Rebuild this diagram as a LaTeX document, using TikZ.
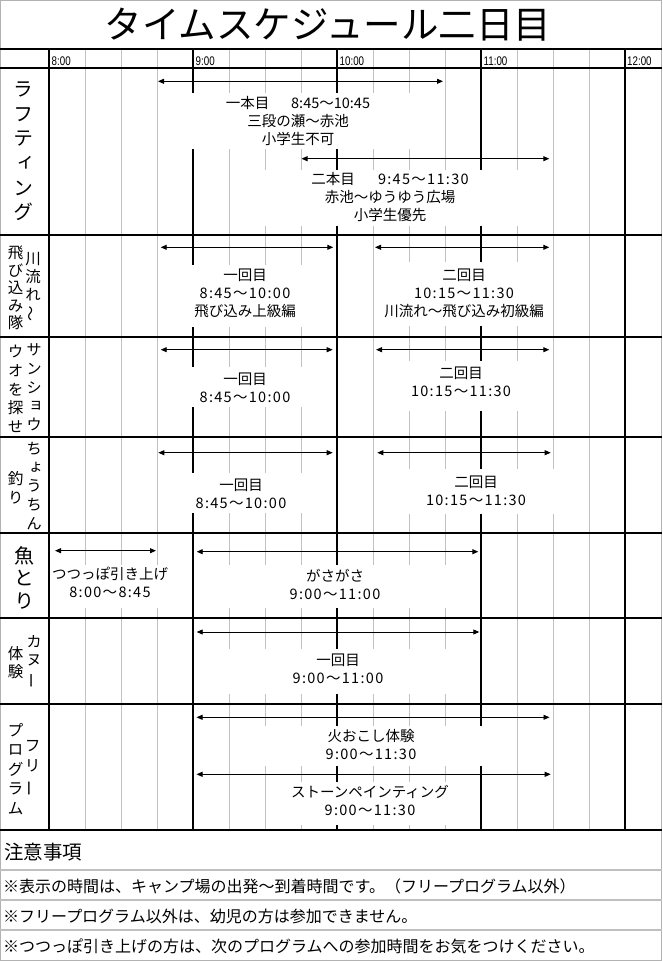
\documentclass[tikz,border=0pt]{standalone}
\usepackage{fontspec}
\setmainfont{Noto Sans CJK JP}
\newfontfamily\jp{Noto Sans CJK JP}
\newfontfamily\jpt[LetterSpace=9]{Noto Sans CJK JP}
\newfontfamily\jpv[RawFeature=+vert]{Noto Sans CJK JP}
\newfontfamily\tm[FakeStretch=0.78]{Liberation Sans}
\usetikzlibrary{arrows.meta}
\newcommand{\vrot}[1]{\rotatebox[origin=c]{90}{\jp #1}}
\tikzset{
  qline/.style={draw=black!24, line width=1pt},
  hourline/.style={draw=black, line width=2pt},
  rowline/.style={draw=black, line width=2.6pt},
  noteline/.style={draw=black!25, line width=1.2pt},
  whitebox/.style={fill=white, draw=none},
  spanarrow/.style={draw=black, line width=0.9pt, {Triangle[length=6pt,width=5pt]}-{Triangle[length=6pt,width=5pt]}},
  celltext/.style={font=\jp\fontsize{14.5}{18}\selectfont, align=center, inner sep=0pt},
  vlab/.style={font=\jpv\fontsize{15.5}{18.7}\selectfont, align=center, inner sep=0pt},
  biglab/.style={font=\jpv\fontsize{20}{24.6}\selectfont, align=center, inner sep=0pt},
  timelab/.style={font=\tm\fontsize{12.5}{12.5}\selectfont, anchor=base west, inner sep=0pt},
  notetext/.style={font=\jp\fontsize{16}{18}\selectfont, anchor=west, inner sep=0pt},
}
\begin{document}
\begin{tikzpicture}[x=1pt,y=-1pt]
\useasboundingbox (0,0) rectangle (662,961);
\fill[white] (0,0) rectangle (662,961);
\draw[draw=black!30, line width=1pt] (0.5,0.5) rectangle (661.5,960.5);

% title
\node[font=\jp\fontsize{37.5}{40}\selectfont, inner sep=0pt] (title) at (328,25) {タイムスケジュール二日目};

% vertical grid
\foreach \k in {1,2,3,5,6,7,9,10,11,13,14,15} {
  \draw[qline] ({49+36*\k},49) -- ({49+36*\k},830);
}
\foreach \x in {49,193,337,481,625} {
  \draw[hourline] (\x,49) -- (\x,830);
}

% white cell areas covering the grid
\fill[whitebox] (158,93) rectangle (444,149);
\fill[whitebox] (230,170) rectangle (552,226);
\fill[whitebox] (158,265) rectangle (336,327);
\fill[whitebox] (374,262) rectangle (552,326);
\fill[whitebox] (158,367) rectangle (336,407);
\fill[whitebox] (374,361) rectangle (552,411);
\fill[whitebox] (158,473) rectangle (336,513);
\fill[whitebox] (374,469) rectangle (588,514);
\fill[whitebox] (51,565) rectangle (192,608);
\fill[whitebox] (194.5,565) rectangle (479.5,608);
\fill[whitebox] (194.5,649) rectangle (479.5,694);
\fill[whitebox] (230,726) rectangle (516,766);
\fill[whitebox] (266,782) rectangle (479.5,825);

% horizontal lines
\foreach \y in {49,68,235,337,437,533,618,704,830} {
  \draw[rowline] (0,\y) -- (662,\y);
}
\foreach \y in {870,900,930} {
  \draw[noteline] (0,\y) -- (662,\y);
}

% time header
\node[timelab] (t8) at (51.5,65.7) {8:00};
\node[timelab] (t9) at (195.5,65.7) {9:00};
\node[timelab] (t10) at (339.5,65.7) {10:00};
\node[timelab] (t11) at (483.5,65.7) {11:00};
\node[timelab] (t12) at (627,65.7) {12:00};

% row labels
\node[biglab] (lraft) at (23,151.5) {ラ\\フ\\テ\\ィ\\ン\\グ};
\node[vlab, font=\jpv\fontsize{15.5}{17.7}\selectfont] (ljumpR) at (33,287) {川\\流\\れ\\\vrot{〜}};
\node[vlab, font=\jpv\fontsize{15.5}{17.5}\selectfont] (ljumpL) at (15.6,288) {飛\\び\\込\\み\\隊};
\node[vlab] (lsalR) at (34,387.5) {サ\\ン\\シ\\ョ\\ウ};
\node[vlab] (lsalL) at (15.6,389) {ウ\\オ\\を\\探\\せ};
\node[vlab] (lfishR) at (34,486) {ち\\ょ\\う\\ち\\ん};
\node[vlab] (lfishL) at (15.6,487.5) {釣\\り};
\node[biglab, font=\jpv\fontsize{20}{22.5}\selectfont] (lsakana) at (24,577.5) {魚\\と\\り};
\node[vlab, font=\jpv\fontsize{15.5}{18.3}\selectfont] (lcanoeR) at (34,661.7) {カ\\ヌ\\\vrot{ー}};
\node[vlab, font=\jpv\fontsize{15.5}{18.3}\selectfont] (lcanoeL) at (15.6,662.5) {体\\験};
\node[vlab, font=\jpv\fontsize{16}{20}\selectfont] (lfreeR) at (32.5,768.3) {フ\\リ\\\vrot{ー}};
\node[vlab, font=\jpv\fontsize{16}{19.6}\selectfont] (lfreeL) at (15.6,769) {プ\\ロ\\グ\\ラ\\ム};

% arrows
\coordinate (a1l) at (158,81.3);   \coordinate (a1r) at (443,81.3);
\coordinate (a2l) at (301.5,158.7); \coordinate (a2r) at (549.3,158.7);
\coordinate (b1l) at (160.7,247.3); \coordinate (b1r) at (333.3,247.3);
\coordinate (b2l) at (375,247.3);   \coordinate (b2r) at (549.3,247.3);
\coordinate (c1l) at (160.7,349.7); \coordinate (c1r) at (332.7,349.7);
\coordinate (c2l) at (376,349.7);   \coordinate (c2r) at (549.3,349.7);
\coordinate (d1l) at (158.3,452.7); \coordinate (d1r) at (332.7,452.7);
\coordinate (d2l) at (377.3,452.7); \coordinate (d2r) at (550.7,452.7);
\coordinate (e1l) at (55,550.7);    \coordinate (e1r) at (156,550.7);
\coordinate (e2l) at (196.7,551.7); \coordinate (e2r) at (478.3,551.7);
\coordinate (f1l) at (196.7,632);   \coordinate (f1r) at (479.3,632);
\coordinate (g1l) at (196.5,717.3); \coordinate (g1r) at (549.5,717.3);
\coordinate (g2l) at (196.5,774.3); \coordinate (g2r) at (550.7,774.3);
\foreach \p in {a1,a2,b1,b2,c1,c2,d1,d2,e1,e2,f1,g1,g2} {
  \draw[spanarrow] (\p l) -- (\p r);
}

% cell texts
\node[celltext] (x1) at (298,121) {一本目\hspace{1.5em}8:45〜10:45\\三段の瀬〜赤池\\小学生不可};
\node[celltext] (x2) at (390,197) {二本目\hspace{1.6em}{\jpt 9:45〜11:30}\\赤池〜ゆうゆう広場\\小学生優先};
\node[celltext] (y1) at (245,293) {一回目\\{\jpt 8:45〜10:00}\\飛び込み上級編};
\node[celltext] (y2) at (464,293) {二回目\\{\jpt 10:15〜11:30}\\川流れ〜飛び込み初級編};
\node[celltext] (z1) at (245,387.5) {一回目\\{\jpt 8:45〜10:00}};
\node[celltext] (z2) at (461,382) {二回目\\{\jpt 10:15〜11:30}};
\node[celltext] (w1) at (241,494) {一回目\\{\jpt 8:45〜10:00}};
\node[celltext] (w2) at (476,491) {二回目\\{\jpt 10:15〜11:30}};
\node[celltext] (v1) at (110,582.5) {つつっぽ引き上げ\\{\jpt 8:00〜8:45}};
\node[celltext] (v2) at (335,584) {がさがさ\\{\jpt 9:00〜11:00}};
\node[celltext] (u1) at (338,669) {一回目\\{\jpt 9:00〜11:00}};
\node[celltext] (s1) at (371,745) {火おこし体験\\{\jpt 9:00〜11:30}};
\node[celltext] (s2) at (370,800) {ストーンペインティング\\{\jpt 9:00〜11:30}};

% notes
\node[notetext, font=\jp\fontsize{19.5}{20}\selectfont] (n0) at (4,852.3) {注意事項};
\node[notetext] (n1) at (3,886.5) {※表示の時間は、キャンプ場の出発〜到着時間です。（フリープログラム以外）};
\node[notetext] (n2) at (3,916.5) {※フリープログラム以外は、幼児の方は参加できません。};
\node[notetext] (n3) at (3,946.5) {※つつっぽ引き上げの方は、次のプログラムへの参加時間をお気をつけください。};
\end{tikzpicture}
\end{document}
